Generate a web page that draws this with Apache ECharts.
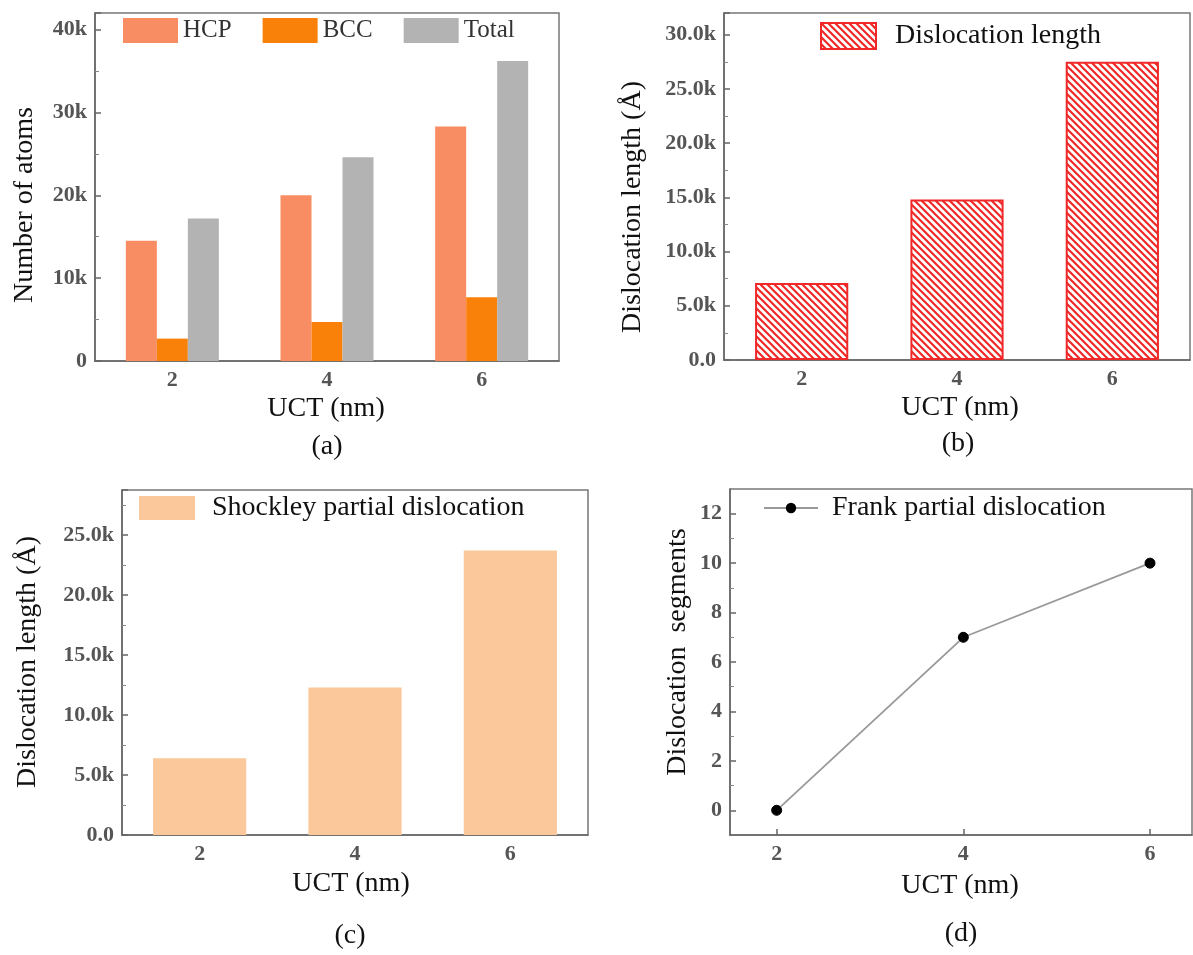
<!DOCTYPE html>
<html><head><meta charset="utf-8">
<script src="https://cdn.jsdelivr.net/npm/echarts@6/dist/echarts.min.js"></script>
<style>html,body{margin:0;padding:0;background:#fff}#c{width:1193px;height:955px}</style>
</head><body><div id="c"></div>
<script>
// ---- data ----
const categories = ['2', '4', '6'];
const hcp = [14500, 20000, 28300];
const bcc = [2700, 4700, 7700];
const total = [17200, 24600, 36200];
const dislocationLength = [7100, 14800, 27500];
const shockley = [6400, 12300, 23700];
const uct = [2, 4, 6];
const frank = [0, 7, 10];
const yTicksD = [0, 2, 4, 6, 8, 10, 12];
const yMinorD = [1, 3, 5, 7, 9, 11];

const FF = '"Liberation Serif","Times New Roman",serif';
const AX = '#666';
const LBL = {color: '#555', fontWeight: 'bold', fontSize: 22, fontFamily: FF};

function hatchPattern() {
  const s = 7, c = document.createElement('canvas');
  c.width = s; c.height = s;
  const g = c.getContext('2d');
  g.fillStyle = '#fff'; g.fillRect(0, 0, s, s);
  g.strokeStyle = '#F02828'; g.lineWidth = 2.2;
  g.beginPath();
  g.moveTo(-2, -2); g.lineTo(s + 2, s + 2);
  g.moveTo(-2, s - 2); g.lineTo(2, s + 2);
  g.moveTo(s - 2, -2); g.lineTo(s + 2, 2);
  g.stroke();
  return c;
}

const chart = echarts.init(document.getElementById('c'), null, {renderer: 'canvas'});

function yAxisBase(gi, extra) {
  return Object.assign({
    type: 'value', gridIndex: gi, position: 'left',
    axisLine: {show: true, onZero: false, lineStyle: {color: AX, width: 1.5}},
    axisTick: {show: true, inside: true, length: 6, lineStyle: {color: AX, width: 1.5}},
    minorTick: {show: true, splitNumber: 2, length: 4, lineStyle: {color: '#888', width: 1}},
    splitLine: {show: false}
  }, extra);
}
function xCat(gi) {
  return {
    type: 'category', gridIndex: gi, data: categories, boundaryGap: true,
    axisLine: {show: true, onZero: false, lineStyle: {color: AX, width: 1.5}},
    axisTick: {show: true, inside: true, alignWithLabel: true, length: 6, lineStyle: {color: '#555', width: 1.5}},
    splitLine: {show: false},
    axisLabel: Object.assign({margin: 8}, LBL)
  };
}
const kFmt = v => v === 0 ? '0' : (v / 1000) + 'k';
const k1Fmt = v => v === 0 ? '0.0' : (v / 1000).toFixed(1) + 'k';

function txt(text, x, y, size, rot, color) {
  return {type: 'text', x: x, y: y, rotation: rot || 0, z: 100,
    style: {text: text, x: 0, y: 0, align: 'center', verticalAlign: 'middle',
      fill: color || '#111', font: 'normal ' + size + 'px ' + FF}};
}

const gridStyle = {show: true, borderColor: '#777', borderWidth: 1.5, backgroundColor: 'transparent', containLabel: false};

chart.setOption({
  animation: false,
  backgroundColor: '#fff',
  grid: [
    Object.assign({left: 95, top: 13, width: 464, height: 348}, gridStyle),
    Object.assign({left: 724, top: 13, width: 466, height: 347}, gridStyle),
    Object.assign({left: 122, top: 490, width: 466, height: 345}, gridStyle),
    Object.assign({left: 730, top: 489, width: 462, height: 346}, gridStyle)
  ],
  xAxis: [
    xCat(0), xCat(1), xCat(2),
    {
      type: 'value', gridIndex: 3, min: 1.5, max: 6.45,
      axisLine: {show: true, onZero: false, lineStyle: {color: AX, width: 1.5}},
      axisTick: {show: true, inside: true, length: 6, customValues: uct, lineStyle: {color: AX, width: 1.5}},
      splitLine: {show: false},
      axisLabel: Object.assign({margin: 8, customValues: uct}, LBL)
    }
  ],
  yAxis: [
    yAxisBase(0, {min: 0, max: 42000, interval: 10000, axisLabel: Object.assign({margin: 8, showMaxLabel: false, formatter: kFmt}, LBL)}),
    yAxisBase(1, {min: 0, max: 32000, interval: 5000, axisLabel: Object.assign({margin: 8, showMaxLabel: false, formatter: k1Fmt}, LBL)}),
    yAxisBase(2, {min: 0, max: 28750, interval: 5000, axisLabel: Object.assign({margin: 8, showMaxLabel: false, formatter: k1Fmt}, LBL)}),
    yAxisBase(3, {min: -1, max: 13, minorTick: {show: false},
      axisTick: {show: true, inside: true, length: 6, customValues: yTicksD, lineStyle: {color: AX, width: 1.5}},
      axisLabel: Object.assign({margin: 8, customValues: yTicksD}, LBL)}),
    yAxisBase(3, {min: -1, max: 13, minorTick: {show: false},
      axisLine: {show: false},
      axisTick: {show: true, inside: true, length: 4, customValues: yMinorD, lineStyle: {color: '#888', width: 1}},
      axisLabel: {show: false}})
  ],
  legend: [
    {data: ['HCP', 'BCC', 'Total'], left: 123, top: 18, padding: 0, itemWidth: 55, itemHeight: 25, itemGap: 31,
      icon: 'rect', textStyle: {fontSize: 25, fontFamily: FF, color: '#333'}},
    {data: ['Dislocation length'], left: 820, top: 22, padding: 0, itemWidth: 55, itemHeight: 26,
      icon: 'rect', textStyle: {fontSize: 28, fontFamily: FF, color: '#111', padding: [0, 0, 0, 14]}},
    {data: ['Shockley partial dislocation'], left: 139, top: 494, padding: 0, itemWidth: 56, itemHeight: 24,
      icon: 'rect', textStyle: {fontSize: 28, fontFamily: FF, color: '#111', padding: [0, 0, 0, 12]}},
    {data: ['Frank partial dislocation'], left: 763, top: 494, padding: 0, itemWidth: 54, itemHeight: 13,
      textStyle: {fontSize: 28, fontFamily: FF, color: '#111', padding: [0, 0, 0, 9]}}
  ],
  series: [
    {name: 'HCP', type: 'bar', xAxisIndex: 0, yAxisIndex: 0, data: hcp, barWidth: 31, barGap: '0%', itemStyle: {color: '#F88C62'}},
    {name: 'BCC', type: 'bar', xAxisIndex: 0, yAxisIndex: 0, data: bcc, barWidth: 31, barGap: '0%', itemStyle: {color: '#F98109'}},
    {name: 'Total', type: 'bar', xAxisIndex: 0, yAxisIndex: 0, data: total, barWidth: 31, barGap: '0%', itemStyle: {color: '#B3B3B3'}},
    {name: 'Dislocation length', type: 'bar', xAxisIndex: 1, yAxisIndex: 1, data: dislocationLength, barWidth: '60%',
      itemStyle: {color: {image: hatchPattern(), repeat: 'repeat'}, borderColor: '#F02828', borderWidth: 2}},
    {name: 'Shockley partial dislocation', type: 'bar', xAxisIndex: 2, yAxisIndex: 2, data: shockley, barWidth: '60%',
      itemStyle: {color: '#FAC89B'}},
    {name: 'Frank partial dislocation', type: 'line', xAxisIndex: 3, yAxisIndex: 3,
      data: uct.map((u, i) => [u, frank[i]]),
      symbol: 'circle', symbolSize: 10, lineStyle: {color: '#999', width: 1.8},
      itemStyle: {color: '#000', borderColor: '#000'}}
  ],
  graphic: [
    txt('Number of atoms', 25, 205, 28, Math.PI / 2),
    txt('UCT (nm)', 326, 409, 28),
    txt('(a)', 327, 447, 28),
    txt('Dislocation length (Å)', 633, 207, 28, Math.PI / 2),
    txt('UCT (nm)', 960, 408, 28),
    txt('(b)', 958, 444, 28),
    txt('Dislocation length (Å)', 28, 662, 28, Math.PI / 2),
    txt('UCT (nm)', 351, 884, 28),
    txt('(c)', 350, 936, 28),
    txt('Dislocation  segments', 678, 652, 28, Math.PI / 2),
    txt('UCT (nm)', 960, 886, 28),
    txt('(d)', 961, 934, 28)
  ]
});
</script>
</body></html>
